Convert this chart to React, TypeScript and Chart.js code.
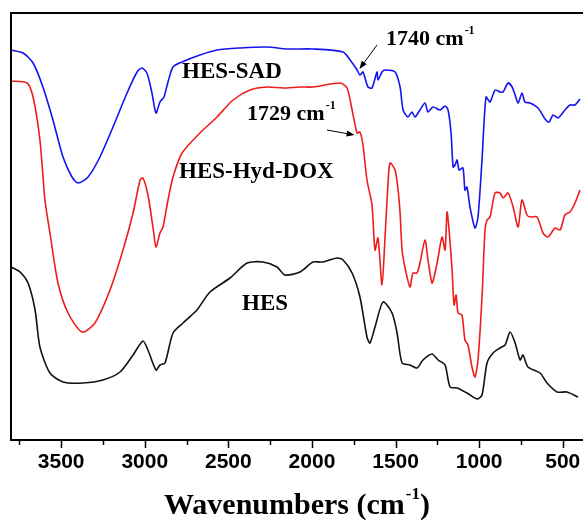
import React, { useEffect, useRef } from "react";
import { Chart, registerables } from "chart.js";

Chart.register(...registerables);

// Wavenumber (cm^-1) and relative transmittance (a.u.)
const sadWn = [3800, 3728, 3668, 3609, 3549, 3489, 3435, 3399, 3339, 3268, 3190, 3106, 3046, 3017, 2987, 2957, 2933, 2909, 2885, 2861, 2831, 2777, 2670, 2568, 2430, 2269, 2149, 1994, 1814, 1772, 1730, 1713, 1695, 1665, 1641, 1611, 1605, 1581, 1563, 1503, 1473, 1455, 1426, 1402, 1384, 1354, 1324, 1306, 1276, 1234, 1204, 1186, 1168, 1156, 1144, 1132, 1120, 1097, 1085, 1073, 1055, 1025, 1007, 983, 959, 935, 905, 875, 857, 827, 803, 785, 767, 744, 726, 696, 648, 606, 582, 558, 528, 487, 457, 427, 397];
const sadT = [390, 387, 377, 353, 320, 283, 263, 257, 263, 283, 313, 347, 368, 372, 367, 347, 327, 338, 343, 358, 373, 378, 385, 390, 392, 393, 391, 391, 388, 380, 370, 365, 368, 353, 352, 368, 360, 368, 370, 368, 353, 330, 323, 328, 323, 330, 337, 328, 333, 330, 334, 330, 307, 273, 275, 280, 270, 272, 250, 253, 233, 212, 223, 280, 343, 338, 350, 348, 348, 357, 353, 345, 337, 347, 338, 337, 332, 321, 318, 325, 322, 330, 335, 335, 341];

const doxWn = [3800, 3704, 3668, 3627, 3597, 3567, 3519, 3459, 3375, 3298, 3208, 3130, 3070, 3028, 3011, 2981, 2951, 2933, 2909, 2891, 2861, 2831, 2777, 2670, 2568, 2472, 2371, 2269, 2173, 2072, 1994, 1832, 1790, 1760, 1730, 1713, 1695, 1671, 1641, 1623, 1605, 1581, 1563, 1545, 1533, 1503, 1485, 1473, 1461, 1443, 1414, 1396, 1372, 1354, 1324, 1306, 1282, 1264, 1246, 1222, 1204, 1192, 1180, 1162, 1150, 1138, 1126, 1103, 1085, 1067, 1043, 1025, 1007, 983, 965, 953, 935, 905, 875, 857, 827, 797, 767, 744, 714, 696, 654, 618, 588, 546, 516, 487, 457, 427, 397];
const doxT = [359, 357, 343, 300, 240, 207, 157, 127, 108, 117, 150, 190, 227, 260, 262, 245, 213, 193, 207, 213, 240, 263, 287, 307, 323, 340, 350, 353, 352, 353, 353, 357, 352, 330, 307, 308, 295, 260, 235, 190, 202, 155, 203, 257, 277, 270, 250, 227, 190, 172, 153, 167, 167, 177, 200, 180, 157, 167, 182, 203, 190, 228, 210, 170, 135, 145, 127, 125, 100, 95, 73, 63, 80, 143, 210, 220, 223, 247, 247, 242, 247, 233, 213, 240, 225, 223, 223, 207, 203, 212, 210, 225, 228, 237, 250];

const hesWn = [3800, 3746, 3698, 3656, 3627, 3567, 3489, 3369, 3250, 3148, 3070, 3011, 2981, 2933, 2909, 2879, 2831, 2771, 2688, 2610, 2490, 2388, 2293, 2209, 2161, 2072, 1994, 1934, 1850, 1814, 1760, 1713, 1671, 1653, 1623, 1575, 1521, 1491, 1461, 1414, 1372, 1336, 1282, 1246, 1204, 1174, 1132, 1073, 1013, 983, 953, 917, 875, 845, 815, 785, 755, 738, 708, 636, 594, 534, 475, 409];
const hesT = [173, 168, 157, 130, 93, 67, 58, 57, 60, 68, 85, 99, 90, 70, 75, 77, 107, 117, 130, 148, 162, 177, 178, 173, 165, 168, 178, 178, 182, 180, 167, 143, 103, 97, 113, 138, 127, 107, 77, 75, 72, 80, 86, 80, 75, 53, 52, 47, 41, 45, 77, 87, 92, 95, 108, 97, 80, 85, 73, 67, 57, 48, 48, 43];

const majorTicks = [3500, 3000, 2500, 2000, 1500, 1000, 500];
const minorTicks = [3750, 3250, 2750, 2250, 1750, 1250, 750];

const seriesNames = ["HES-SAD", "HES-Hyd-DOX", "HES"];
const seriesColors = ["#1414f0", "#ee1c1c", "#111111"];

// Text annotations anchored in data coordinates: [text, wavenumber, T, size, superscript]
const labels: [string, number, number, number, string][] = [
  ["HES-SAD", 2777, 362, 23, ""],
  ["HES-Hyd-DOX", 2795, 262, 23, ""],
  ["HES", 2418, 130, 23, ""],
  ["1729 cm", 2388, 320, 22, "-1"],
  ["1740 cm", 1557, 395, 22, "-1"],
];
// Arrows: [tailWn, tailT, tipWn, tipT]
const arrows: [number, number, number, number][] = [
  [1611, 395, 1716, 371],
  [1910, 310, 1745, 305],
];

function toPoints(wn: number[], t: number[]) {
  return wn.map((w, i) => ({ x: w, y: t[i] }));
}

function drawSupText(ctx: CanvasRenderingContext2D, text: string, sup: string, x: number, y: number, size: number, align: "left" | "center", tail = "") {
  const mainFont = `bold ${size}px "Liberation Serif", "Times New Roman", serif`;
  const supSize = Math.round(size * 0.56);
  const supFont = `bold ${supSize}px "Liberation Serif", "Times New Roman", serif`;
  ctx.font = mainFont;
  const w1 = ctx.measureText(text).width;
  const w3 = tail ? ctx.measureText(tail).width : 0;
  ctx.font = supFont;
  const w2 = sup ? ctx.measureText(sup).width + 1 : 0;
  const total = w1 + w2 + w3;
  let sx = align === "center" ? x - total / 2 : x;
  ctx.textAlign = "left";
  ctx.textBaseline = "alphabetic";
  ctx.font = mainFont;
  ctx.fillText(text, sx, y);
  sx += w1 + 1;
  if (sup) {
    ctx.font = supFont;
    ctx.fillText(sup, sx, y - size * 0.5);
    sx += w2 - 1;
  }
  if (tail) {
    ctx.font = mainFont;
    ctx.fillText(tail, sx, y);
  }
}

const decorPlugin = {
  id: "decor",
  afterDraw(chart: any) {
    const { ctx, chartArea, scales } = chart;
    const xs = scales.x;
    const ys = scales.y;
    ctx.save();
    ctx.strokeStyle = "#000";
    ctx.lineWidth = 2;
    ctx.beginPath();
    ctx.moveTo(chartArea.right + 2, chartArea.top);
    ctx.lineTo(chartArea.left, chartArea.top);
    ctx.lineTo(chartArea.left, chartArea.bottom);
    ctx.lineTo(chartArea.right + 2, chartArea.bottom);
    ctx.stroke();
    ctx.lineWidth = 1.5;
    majorTicks.forEach((v) => {
      const px = Math.round(xs.getPixelForValue(v)) + 0.5;
      ctx.beginPath();
      ctx.moveTo(px, chartArea.bottom);
      ctx.lineTo(px, chartArea.bottom + 8);
      ctx.stroke();
    });
    minorTicks.forEach((v) => {
      const px = Math.round(xs.getPixelForValue(v)) + 0.5;
      ctx.beginPath();
      ctx.moveTo(px, chartArea.bottom);
      ctx.lineTo(px, chartArea.bottom + 5);
      ctx.stroke();
    });
    ctx.fillStyle = "#000";
    labels.forEach(([text, w, t, size, sup]) => {
      drawSupText(ctx, text, sup, xs.getPixelForValue(w), ys.getPixelForValue(t), size, "left");
    });
    ctx.lineWidth = 1;
    arrows.forEach(([w0, t0, w1, t1]) => {
      const x0 = xs.getPixelForValue(w0), y0 = ys.getPixelForValue(t0);
      const x1 = xs.getPixelForValue(w1), y1 = ys.getPixelForValue(t1);
      const ang = Math.atan2(y1 - y0, x1 - x0);
      ctx.beginPath();
      ctx.moveTo(x0, y0);
      ctx.lineTo(x1 - 4 * Math.cos(ang), y1 - 4 * Math.sin(ang));
      ctx.stroke();
      ctx.beginPath();
      ctx.moveTo(x1, y1);
      ctx.lineTo(x1 - 8 * Math.cos(ang) + 3 * Math.sin(ang), y1 - 8 * Math.sin(ang) - 3 * Math.cos(ang));
      ctx.lineTo(x1 - 8 * Math.cos(ang) - 3 * Math.sin(ang), y1 - 8 * Math.sin(ang) + 3 * Math.cos(ang));
      ctx.closePath();
      ctx.fill();
    });
    // axis title
    const cx = (chartArea.left + chartArea.right) / 2;
    drawSupText(ctx, "Wavenumbers (cm", "-1", cx, 514, 30, "center", ")");
    ctx.restore();
  },
};

export default function App() {
  const ref = useRef<HTMLCanvasElement | null>(null);
  useEffect(() => {
    if (!ref.current) return;
    const data = [toPoints(sadWn, sadT), toPoints(doxWn, doxT), toPoints(hesWn, hesT)];
    const chart = new Chart(ref.current, {
      type: "line",
      data: {
        datasets: data.map((d, i) => ({
          label: seriesNames[i],
          data: d,
          borderColor: seriesColors[i],
          borderWidth: 1.6,
          pointRadius: 0,
          tension: 0.25,
          fill: false,
        })),
      },
      options: {
        animation: false,
        responsive: false,
        devicePixelRatio: 1,
        layout: { padding: { left: 11, top: 13, right: 0, bottom: 0 } },
        plugins: { legend: { display: false }, tooltip: { enabled: false } },
        scales: {
          x: {
            type: "linear",
            reverse: true,
            min: 379,
            max: 3800,
            grid: { display: false, drawTicks: false },
            border: { display: false },
            afterBuildTicks: (scale: any) => {
              scale.ticks = majorTicks.map((v) => ({ value: v }));
            },
            afterFit: (scale: any) => {
              scale.height = 90;
              scale.paddingLeft = 0;
              scale.paddingRight = 0;
            },
            ticks: {
              autoSkip: false,
              maxRotation: 0,
              padding: 10,
              color: "#000",
              font: { family: '"Liberation Sans", Arial, sans-serif', size: 21, weight: "bold" },
              callback: (v: any) => String(v),
            },
          },
          y: {
            display: false,
            min: 0,
            max: 427,
          },
        },
      },
      plugins: [decorPlugin],
    } as any);
    return () => chart.destroy();
  }, []);
  return (
    <div style={{ position: "absolute", left: 0, top: 0, width: 583, height: 530, background: "#fff" }}>
      <canvas ref={ref} width={583} height={530} style={{ display: "block" }} />
    </div>
  );
}
